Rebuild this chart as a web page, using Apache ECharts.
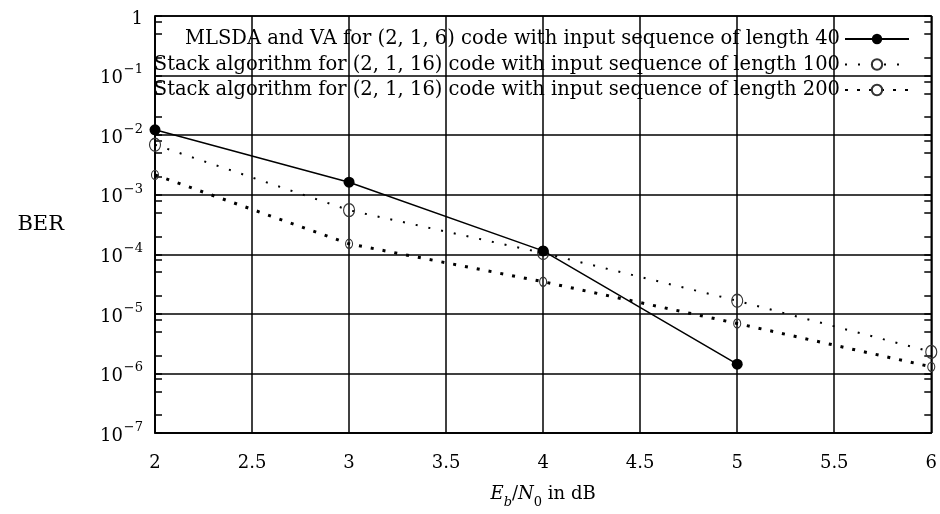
<!DOCTYPE html>
<html>
<head>
<meta charset="utf-8">
<script src="https://cdn.jsdelivr.net/npm/echarts@6/dist/echarts.min.js"></script>
<style>
  html, body { margin: 0; padding: 0; background: #fff; }
  #chart { width: 940px; height: 514px; }
</style>
</head>
<body>
<div id="chart"></div>
<script>
// Eb/N0 grid (dB) for each curve
const snrVA = [2, 3, 4, 5];
const snrStack = [2, 3, 4, 5, 6];

// Bit error rates
const berVA40 = [1.23e-2, 1.62e-3, 1.14e-4, 1.43e-6];
const berStack100 = [6.9e-3, 5.5e-4, 1.05e-4, 1.66e-5, 2.3e-6];
const berStack200 = [2.15e-3, 1.5e-4, 3.46e-5, 6.9e-6, 1.29e-6];

const seriesNames = [
  'MLSDA and VA for (2, 1, 6) code with input sequence of length 40',
  'Stack algorithm for (2, 1, 16) code with input sequence of length 100',
  'Stack algorithm for (2, 1, 16) code with input sequence of length 200'
];

// Axis ticks
const xTicks = [2, 2.5, 3, 3.5, 4, 4.5, 5, 5.5, 6];
const yDecadeExponents = [-7, -6, -5, -4, -3, -2, -1, 0];
const yMinorMantissas = [2, 5, 8];

const FONT = 'DejaVu Serif';
const BLACK = '#000';

const minorTickValues = [];
yDecadeExponents.slice(0, -1).forEach(e => {
  yMinorMantissas.forEach(m => minorTickValues.push(m * Math.pow(10, e)));
});

function pairs(xs, ys) { return xs.map((x, i) => [x, ys[i]]); }

function yLabel(v) {
  const e = Math.round(Math.log10(v));
  if (e === 0) return '{b|1}';
  return '{b|10}{s|\u2212' + (-e) + '}';
}

const richY = {
  b: { fontFamily: FONT, fontSize: 18, color: BLACK, lineHeight: 24, verticalAlign: 'bottom' },
  s: { fontFamily: FONT, fontSize: 13, color: BLACK, lineHeight: 24, verticalAlign: 'top', padding: [0, 0, 0, 1] }
};

const logAxisBase = {
  type: 'log',
  logBase: 10,
  min: 1e-7,
  max: 1,
  gridIndex: 0
};

const chart = echarts.init(document.getElementById('chart'), null, { renderer: 'canvas' });

chart.setOption({
  animation: false,
  backgroundColor: '#fff',
  grid: {
    left: 155, right: 4, top: 16, bottom: 78,
    show: true, borderColor: BLACK, borderWidth: 1.5, backgroundColor: 'transparent'
  },
  legend: {
    orient: 'vertical',
    right: 30,
    top: 29,
    padding: 0,
    align: 'right',
    itemWidth: 64,
    itemHeight: 13,
    itemGap: 5.5,
    textStyle: { fontFamily: FONT, fontSize: 19.5, color: BLACK },
    data: seriesNames
  },
  xAxis: {
    type: 'value',
    min: 2,
    max: 6,
    interval: 0.5,
    axisLine: { show: true, lineStyle: { color: BLACK, width: 1.5 } },
    axisTick: { show: false },
    splitLine: { show: true, lineStyle: { color: BLACK, width: 1.5 } },
    axisLabel: {
      fontFamily: FONT, fontSize: 18, color: BLACK, margin: 21,
      customValues: xTicks,
      formatter: v => String(v)
    },
    name: '{i|E}{si|b}{n|/}{i|N}{sb|0}{n| in dB}',
    nameLocation: 'middle',
    nameGap: 52,
    nameTextStyle: {
      rich: {
        i: { fontFamily: FONT, fontStyle: 'italic', fontSize: 18, color: BLACK, lineHeight: 24, verticalAlign: 'top' },
        n: { fontFamily: FONT, fontSize: 18, color: BLACK, lineHeight: 24, verticalAlign: 'top' },
        si: { fontFamily: FONT, fontStyle: 'italic', fontSize: 13, color: BLACK, lineHeight: 24, verticalAlign: 'bottom' },
        sb: { fontFamily: FONT, fontSize: 13, color: BLACK, lineHeight: 24, verticalAlign: 'bottom' }
      }
    }
  },
  yAxis: [
    Object.assign({}, logAxisBase, {
      position: 'left',
      axisLine: { show: true, lineStyle: { color: BLACK, width: 1.5 } },
      axisTick: { show: true, inside: true, length: 7, lineStyle: { color: BLACK, width: 1.5 } },
      splitLine: { show: true, lineStyle: { color: BLACK, width: 1.5 } },
      axisLabel: {
        margin: 12,
        customValues: yDecadeExponents.map(e => Math.pow(10, e)),
        formatter: yLabel,
        rich: richY
      },
      name: 'BER',
      nameLocation: 'middle',
      nameRotate: 0,
      nameGap: 91,
      nameTextStyle: { fontFamily: FONT, fontSize: 21, color: BLACK }
    }),
    Object.assign({}, logAxisBase, {
      position: 'left',
      axisLine: { show: false },
      axisTick: { show: true, inside: true, length: 7, customValues: minorTickValues, lineStyle: { color: BLACK, width: 1.5 } },
      splitLine: { show: false },
      axisLabel: { show: false }
    }),
    Object.assign({}, logAxisBase, {
      position: 'right',
      axisLine: { show: false },
      axisTick: { show: true, inside: true, length: 7, customValues: minorTickValues.concat(yDecadeExponents.map(e => Math.pow(10, e))), lineStyle: { color: BLACK, width: 1.5 } },
      splitLine: { show: false },
      axisLabel: { show: false }
    })
  ],
  series: [
    {
      name: seriesNames[0],
      type: 'line',
      data: pairs(snrVA, berVA40),
      symbol: 'circle',
      symbolSize: 11,
      itemStyle: { color: BLACK },
      lineStyle: { color: BLACK, width: 1.5, type: 'solid' },
      z: 5
    },
    {
      name: seriesNames[1],
      type: 'line',
      data: pairs(snrStack, berStack100),
      symbol: 'circle',
      symbolSize: [11, 13],
      itemStyle: { color: 'rgba(0,0,0,0)', borderColor: '#333', borderWidth: 1.2 },
      lineStyle: { color: BLACK, width: 2, type: [2, 11] },
      z: 4
    },
    {
      name: seriesNames[2],
      type: 'line',
      data: pairs(snrStack, berStack200),
      symbol: 'circle',
      symbolSize: [7, 9],
      itemStyle: { color: 'rgba(0,0,0,0)', borderColor: '#333', borderWidth: 1.2 },
      lineStyle: { color: BLACK, width: 3, type: [3, 9] },
      z: 3
    }
  ]
});
</script>
</body>
</html>
